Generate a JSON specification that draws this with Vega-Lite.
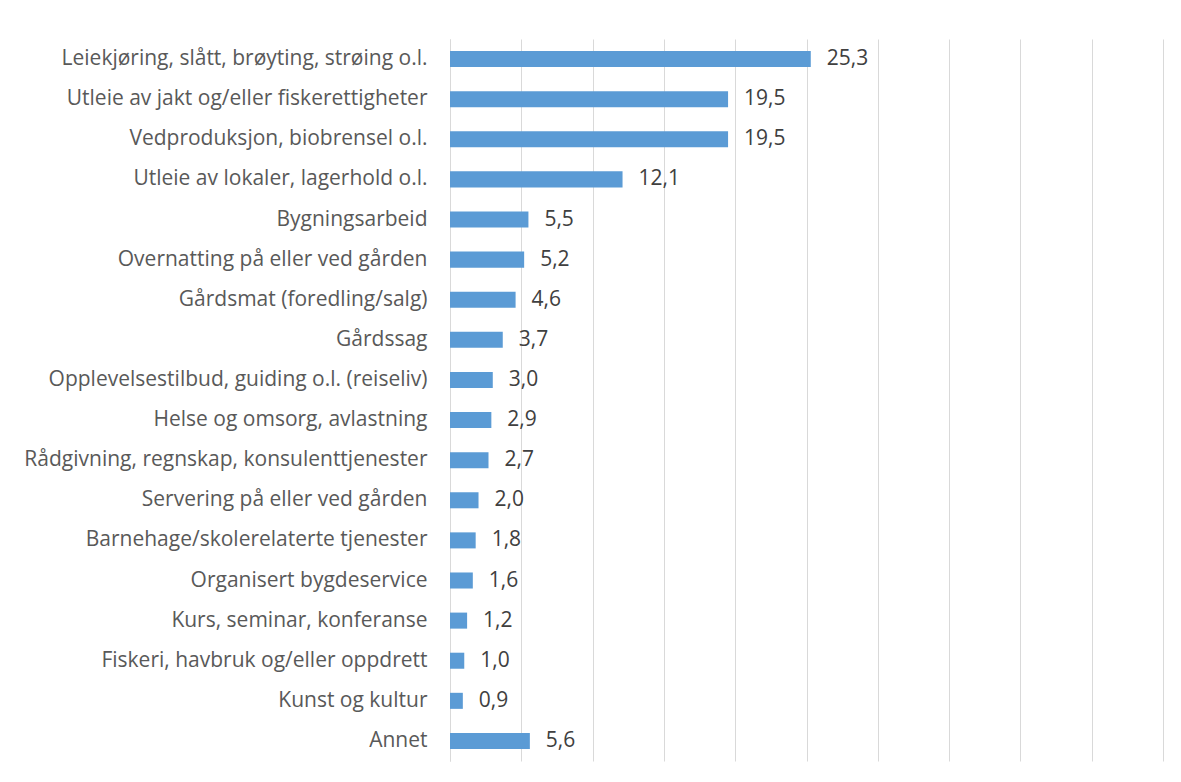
{
  "$schema": "https://vega.github.io/schema/vega-lite/v6.json",
  "autosize": {"type": "none"},
  "width": 713,
  "height": 722,
  "padding": {"left": 450, "top": 39, "right": 18, "bottom": 21},
  "background": "white",
  "config": {
    "view": {"stroke": null},
    "locale": {"number": {"decimal": ",", "thousands": " ", "grouping": [3], "currency": ["", " kr"]}}
  },
  "data": {"values": [
    {"kategori": "Leiekjøring, slått, brøyting, strøing o.l.", "andel": 25.3},
    {"kategori": "Utleie av jakt og/eller fiskerettigheter", "andel": 19.5},
    {"kategori": "Vedproduksjon, biobrensel o.l.", "andel": 19.5},
    {"kategori": "Utleie av lokaler, lagerhold o.l.", "andel": 12.1},
    {"kategori": "Bygningsarbeid", "andel": 5.5},
    {"kategori": "Overnatting på eller ved gården", "andel": 5.2},
    {"kategori": "Gårdsmat (foredling/salg)", "andel": 4.6},
    {"kategori": "Gårdssag", "andel": 3.7},
    {"kategori": "Opplevelsestilbud, guiding o.l. (reiseliv)", "andel": 3.0},
    {"kategori": "Helse og omsorg, avlastning", "andel": 2.9},
    {"kategori": "Rådgivning, regnskap, konsulenttjenester", "andel": 2.7},
    {"kategori": "Servering på eller ved gården", "andel": 2.0},
    {"kategori": "Barnehage/skolerelaterte tjenester", "andel": 1.8},
    {"kategori": "Organisert bygdeservice", "andel": 1.6},
    {"kategori": "Kurs, seminar, konferanse", "andel": 1.2},
    {"kategori": "Fiskeri, havbruk og/eller oppdrett", "andel": 1.0},
    {"kategori": "Kunst og kultur", "andel": 0.9},
    {"kategori": "Annet", "andel": 5.6}
  ]},
  "encoding": {
    "y": {
      "field": "kategori", "type": "nominal", "sort": null,
      "scale": {"paddingInner": 0.6, "paddingOuter": 0.3},
      "axis": {
        "title": null, "ticks": false, "domain": true, "domainColor": "#d9d9d9", "domainWidth": 1,
        "labelFont": "Open Sans", "labelFontSize": 21, "labelColor": "#595959", "labelPadding": 23,
        "labelLimit": 500
      }
    },
    "x": {
      "field": "andel", "type": "quantitative",
      "scale": {"domain": [0, 50], "nice": false},
      "axis": {
        "title": null, "values": [0,5,10,15,20,25,30,35,40,45,50], "labels": false, "ticks": false,
        "domain": false, "grid": true, "gridColor": "#d9d9d9", "gridWidth": 1
      }
    }
  },
  "layer": [
    {"mark": {"type": "bar", "color": "#5b9bd5"}},
    {
      "mark": {"type": "text", "align": "left", "baseline": "middle", "dx": 16, "font": "Open Sans", "fontSize": 21, "color": "#404040"},
      "encoding": {"text": {"field": "andel", "type": "quantitative", "format": ".1f"}}
    }
  ]
}
